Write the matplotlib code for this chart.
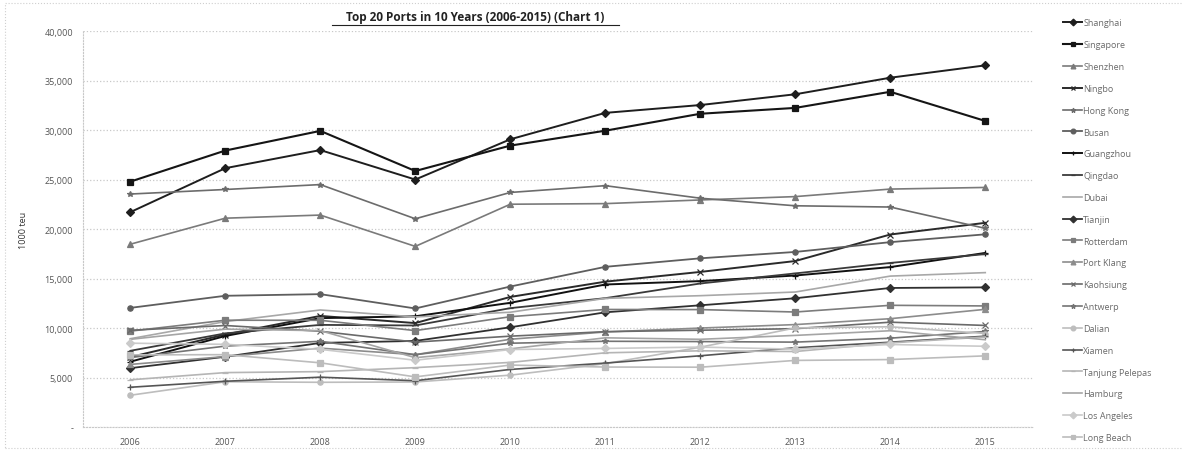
import numpy as np
import matplotlib.pyplot as plt
from matplotlib.patches import Rectangle
from matplotlib.ticker import FuncFormatter

plt.rcParams['font.family'] = ['Open Sans', 'DejaVu Sans']

years = ["2006", "2007", "2008", "2009", "2010", "2011", "2012", "2013", "2014", "2015"]

# container throughput, 1000 TEU
shanghai = [21710, 26150, 27980, 25002, 29069, 31739, 32529, 33617, 35290, 36537]
singapore = [24792, 27932, 29918, 25866, 28431, 29937, 31649, 32240, 33869, 30922]
shenzhen = [18469, 21099, 21414, 18250, 22510, 22570, 22941, 23280, 24040, 24205]
ningbo = [7068, 9349, 11226, 10502, 13144, 14686, 15670, 16770, 19450, 20630]
hong_kong = [23539, 23998, 24494, 21040, 23699, 24384, 23117, 22352, 22226, 20073]
busan = [12039, 13261, 13425, 11980, 14194, 16185, 17046, 17690, 18678, 19469]
guangzhou = [6600, 9200, 11001, 11190, 12550, 14400, 14743, 15309, 16160, 17590]
qingdao = [7702, 9462, 10320, 10260, 12012, 13020, 14503, 15520, 16580, 17470]
dubai = [8923, 10653, 11827, 11124, 11600, 13000, 13270, 13640, 15249, 15600]
tianjin = [5950, 7103, 8500, 8700, 10080, 11590, 12300, 13010, 14050, 14110]
rotterdam = [9690, 10790, 10784, 9743, 11146, 11877, 11866, 11621, 12298, 12235]
port_klang = [6326, 7120, 7970, 7309, 8870, 9604, 10000, 10350, 10946, 11890]
kaohsiung = [9775, 10257, 9677, 8581, 9181, 9636, 9781, 9938, 10593, 10264]
antwerp = [7019, 8176, 8663, 7310, 8468, 8664, 8635, 8578, 8978, 9654]
dalian = [3212, 4574, 4520, 4552, 5242, 6400, 8064, 10015, 10130, 9450]
xiamen = [4019, 4627, 5035, 4680, 5820, 6460, 7200, 8008, 8572, 9180]
tanjung_pelepas = [4770, 5500, 5600, 6000, 6530, 7500, 7700, 7630, 8500, 9100]
hamburg = [8862, 9890, 9737, 7008, 7900, 9014, 8864, 9258, 9729, 8821]
los_angeles = [8470, 8355, 7850, 6748, 7832, 7941, 8078, 7869, 8340, 8160]
long_beach = [7290, 7312, 6488, 5067, 6263, 6061, 6046, 6731, 6818, 7192]

ports = ["Shanghai", "Singapore", "Shenzhen", "Ningbo", "Hong Kong", "Busan",
         "Guangzhou", "Qingdao", "Dubai", "Tianjin", "Rotterdam", "Port Klang",
         "Kaohsiung", "Antwerp", "Dalian", "Xiamen", "Tanjung Pelepas",
         "Hamburg", "Los Angeles", "Long Beach"]
series = [shanghai, singapore, shenzhen, ningbo, hong_kong, busan, guangzhou,
          qingdao, dubai, tianjin, rotterdam, port_klang, kaohsiung, antwerp,
          dalian, xiamen, tanjung_pelepas, hamburg, los_angeles, long_beach]

# grey shade, marker, line width per port
styles = [
    ("#1e1e1e", "D", 1.4), ("#151515", "s", 1.5), ("#7a7a7a", "^", 1.2),
    ("#2a2a2a", "x", 1.4), ("#6c6c6c", "*", 1.2), ("#5e5e5e", "o", 1.3),
    ("#111111", "+", 1.4), ("#3a3a3a", "_", 1.3), ("#a8a8a8", "", 1.2),
    ("#303030", "D", 1.3), ("#7c7c7c", "s", 1.2), ("#8c8c8c", "^", 1.2),
    ("#6a6a6a", "x", 1.2), ("#747474", "*", 1.2), ("#bdbdbd", "o", 1.2),
    ("#555555", "+", 1.2), ("#b5b5b5", "_", 1.2), ("#a5a5a5", "", 1.2),
    ("#cacaca", "D", 1.2), ("#bcbcbc", "s", 1.2),
]

fig = plt.figure(figsize=(11.83, 4.52), dpi=100)
fig.patches.append(Rectangle((0.004, 0.006), 1.2, 0.985, transform=fig.transFigure,
                             fill=False, edgecolor="#cfcfcf", linestyle=":", linewidth=0.8))

ax = fig.add_axes([0.070, 0.053, 0.803, 0.876])
x = np.arange(len(years))
for name, vals, (col, mk, lw) in zip(ports, series, styles):
    ax.plot(x, vals, color=col, marker=mk if mk else None, markersize=3.8,
            markeredgewidth=0.9, linewidth=lw, label=name)

ax.set_xlim(-0.5, len(years) - 0.5)
ax.set_ylim(0, 40000)
ax.set_yticks(np.arange(0, 40001, 5000))
ax.yaxis.set_major_formatter(FuncFormatter(lambda v, p: "-" if v == 0 else f"{int(v):,}"))
ax.set_xticks(x)
ax.set_xticklabels(years)
ax.tick_params(axis="both", length=0, labelsize=6.5, labelcolor="#555555")
ax.tick_params(axis="y", pad=7)
ax.tick_params(axis="x", pad=7)
ax.grid(axis="y", color="#c8c8c8", linestyle=":", linewidth=0.9)
for side in ["top", "right"]:
    ax.spines[side].set_visible(False)
for side in ["left", "bottom"]:
    ax.spines[side].set_color("#c8c8c8")
    ax.spines[side].set_linestyle(":")
ax.set_ylabel("1000 teu", fontsize=6.5, color="#333333", labelpad=12)

fig.text(0.402, 0.962, "Top 20 Ports in 10 Years (2006-2015) (Chart 1)",
         fontsize=8.5, fontweight="bold", ha="center", va="center", color="#222222")
fig.lines.append(plt.Line2D([0.281, 0.523], [0.942, 0.942], transform=fig.transFigure,
                            color="#222222", linewidth=0.8))

fig.legend(loc="upper left", bbox_to_anchor=(0.892, 0.975), frameon=False,
           fontsize=6.5, labelspacing=1.42, handlelength=2.1, handletextpad=0.1,
           labelcolor="#6a6a6a", markerscale=0.9)

fig.savefig("out.png", dpi=100)
